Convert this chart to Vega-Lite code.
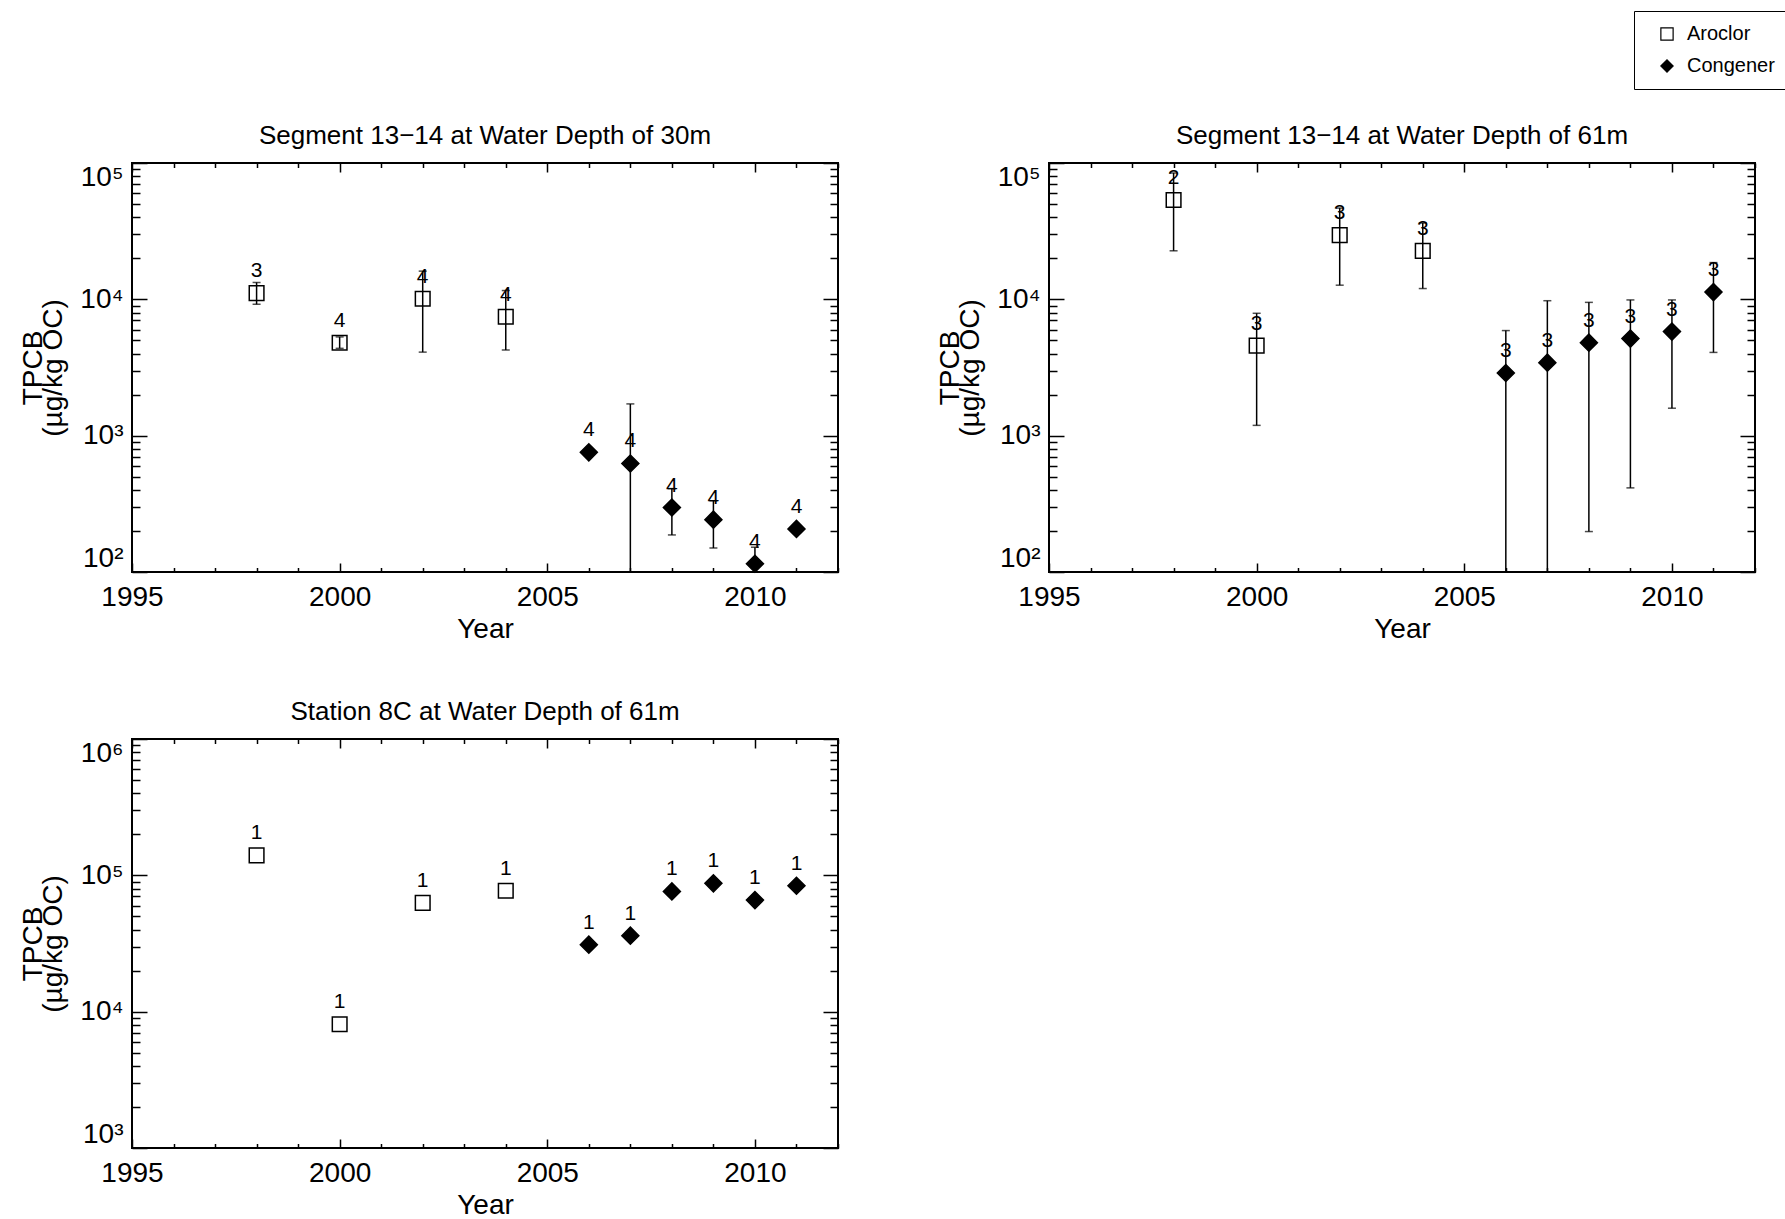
{
  "$schema": "https://vega.github.io/schema/vega-lite/v6.json",
  "background": "white",
  "padding": {"left": 18, "top": 10, "right": 0, "bottom": 0},
  "config": {
    "font": "Liberation Sans",
    "view": {"stroke": "black", "strokeWidth": 2},
    "axis": {
      "domain": false,
      "grid": false,
      "labelFont": "Liberation Sans",
      "labelFontSize": 28,
      "labelColor": "black",
      "labelOverlap": false,
      "titleFont": "Liberation Sans",
      "titleFontSize": 28,
      "titleFontWeight": "normal",
      "titleColor": "black",
      "tickColor": "black",
      "tickWidth": 1.5
    },
    "legend": {
      "orient": "none",
      "legendX": 1502,
      "legendY": -152,
      "title": null,
      "strokeColor": "black",
      "fillColor": "white",
      "padding": 13,
      "labelFont": "Liberation Sans",
      "labelFontSize": 20,
      "labelColor": "black",
      "rowPadding": 12,
      "symbolSize": 150,
      "symbolOffset": 10,
      "labelOffset": 10,
      "symbolStrokeWidth": 1.2
    },
    "title": {"font": "Liberation Sans", "fontSize": 26, "fontWeight": "normal", "color": "black", "baseline": "alphabetic", "offset": 6}
  },
  "datasets": {
    "seg30": [
      {"year": 1998, "type": "Aroclor", "val": 11100, "lo": 9200, "hi": 13300, "n": 3},
      {"year": 2000, "type": "Aroclor", "val": 4800, "lo": 4370, "hi": 5300, "n": 4},
      {"year": 2002, "type": "Aroclor", "val": 10100, "lo": 4100, "hi": 16100, "n": 4},
      {"year": 2004, "type": "Aroclor", "val": 7450, "lo": 4250, "hi": 11600, "n": 4},
      {"year": 2006, "type": "Congener", "val": 755, "lo": null, "hi": null, "n": 4},
      {"year": 2007, "type": "Congener", "val": 625, "lo": 1, "hi": 1710, "n": 4},
      {"year": 2008, "type": "Congener", "val": 297, "lo": 187, "hi": 409, "n": 4},
      {"year": 2009, "type": "Congener", "val": 242, "lo": 150, "hi": 333, "n": 4},
      {"year": 2010, "type": "Congener", "val": 115, "lo": 80, "hi": 152, "n": 4},
      {"year": 2011, "type": "Congener", "val": 207, "lo": null, "hi": null, "n": 4}
    ],
    "seg61": [
      {"year": 1998, "type": "Aroclor", "val": 53500, "lo": 22700, "hi": 84500, "n": 2},
      {"year": 2000, "type": "Aroclor", "val": 4580, "lo": 1190, "hi": 7900, "n": 3},
      {"year": 2002, "type": "Aroclor", "val": 29600, "lo": 12700, "hi": 46700, "n": 3},
      {"year": 2004, "type": "Aroclor", "val": 22700, "lo": 12000, "hi": 36300, "n": 3},
      {"year": 2006, "type": "Congener", "val": 2880, "lo": 1, "hi": 5900, "n": 3},
      {"year": 2007, "type": "Congener", "val": 3430, "lo": 1, "hi": 9770, "n": 3},
      {"year": 2008, "type": "Congener", "val": 4810, "lo": 198, "hi": 9500, "n": 3},
      {"year": 2009, "type": "Congener", "val": 5150, "lo": 414, "hi": 9900, "n": 3},
      {"year": 2010, "type": "Congener", "val": 5800, "lo": 1590, "hi": 9900, "n": 3},
      {"year": 2011, "type": "Congener", "val": 11300, "lo": 4080, "hi": 18600, "n": 3}
    ],
    "st8c": [
      {"year": 1998, "type": "Aroclor", "val": 140000, "n": 1},
      {"year": 2000, "type": "Aroclor", "val": 8080, "n": 1},
      {"year": 2002, "type": "Aroclor", "val": 62800, "n": 1},
      {"year": 2004, "type": "Aroclor", "val": 77100, "n": 1},
      {"year": 2006, "type": "Congener", "val": 31000, "n": 1},
      {"year": 2007, "type": "Congener", "val": 36100, "n": 1},
      {"year": 2008, "type": "Congener", "val": 76200, "n": 1},
      {"year": 2009, "type": "Congener", "val": 87400, "n": 1},
      {"year": 2010, "type": "Congener", "val": 65800, "n": 1},
      {"year": 2011, "type": "Congener", "val": 83900, "n": 1}
    ]
  },
  "columns": 2,
  "spacing": {"row": 167, "column": 211},
  "bounds": "flush",
  "concat": [
    {
      "width": 706,
      "height": 409,
      "title": {"text": "Segment 13−14 at Water Depth of 30m"},
      "data": {"name": "seg30"},
      "resolve": {"axis": {"x": "independent", "y": "independent"}},
      "layer": [
        {
          "mark": {"type": "rule", "clip": true, "color": "black", "strokeWidth": 1.5},
          "encoding": {
            "x": {"field": "year", "type": "quantitative", "scale": {"domain": [1995, 2012], "nice": false, "zero": false}, "axis": null},
            "y": {"field": "lo", "type": "quantitative", "scale": {"type": "log", "domain": [100, 100000], "nice": false}, "axis": null},
            "y2": {"field": "hi"}
          }
        },
        {
          "mark": {"type": "tick", "orient": "horizontal", "clip": true, "color": "black", "size": 8, "thickness": 1.5},
          "encoding": {
            "x": {"field": "year", "type": "quantitative", "scale": {"domain": [1995, 2012], "nice": false, "zero": false}, "axis": null},
            "y": {"field": "lo", "type": "quantitative", "scale": {"type": "log", "domain": [100, 100000], "nice": false}, "axis": null}
          }
        },
        {
          "mark": {"type": "tick", "orient": "horizontal", "clip": true, "color": "black", "size": 8, "thickness": 1.5},
          "encoding": {
            "x": {"field": "year", "type": "quantitative", "scale": {"domain": [1995, 2012], "nice": false, "zero": false}, "axis": null},
            "y": {"field": "hi", "type": "quantitative", "scale": {"type": "log", "domain": [100, 100000], "nice": false}, "axis": null}
          }
        },
        {
          "mark": {"type": "point", "filled": true, "strokeWidth": 1.5, "opacity": 1},
          "encoding": {
            "x": {"field": "year", "type": "quantitative", "scale": {"domain": [1995, 2012], "nice": false, "zero": false},
              "axis": {"orient": "bottom", "title": "Year", "titleY": 65, "titleBaseline": "alphabetic", "format": "d", "labelFlush": false, "labelPadding": 20,
                "values": [1995, 1996, 1997, 1998, 1999, 2000, 2001, 2002, 2003, 2004, 2005, 2006, 2007, 2008, 2009, 2010, 2011, 2012],
                "labelExpr": "datum.value % 5 === 0 ? datum.label : ''",
                "tickSize": {"condition": {"test": "datum.value % 5 === 0", "value": -9}, "value": -4.5}}},
            "y": {"field": "val", "type": "quantitative", "scale": {"type": "log", "domain": [100, 100000], "nice": false},
              "axis": {"orient": "left", "title": ["TPCB", "(µg/kg OC)"], "titleX": -91, "titleBaseline": "alphabetic", "titleLineHeight": 20, "labelFlush": true, "labelPadding": 24,
                "values": [100, 200, 300, 400, 500, 600, 700, 800, 900, 1000, 2000, 3000, 4000, 5000, 6000, 7000, 8000, 9000, 10000, 20000, 30000, 40000, 50000, 60000, 70000, 80000, 90000, 100000],
                "labelExpr": "datum.value === 100 ? '10²' : datum.value === 1000 ? '10³' : datum.value === 10000 ? '10⁴' : datum.value === 100000 ? '10⁵' : ''",
                "tickSize": {"condition": {"test": "indexof([100, 1000, 10000, 100000, 1000000], datum.value) >= 0", "value": -15}, "value": -8}}},
            "shape": {"field": "type", "type": "nominal", "scale": {"domain": ["Aroclor", "Congener"], "range": ["square", "diamond"]}},
            "fill": {"field": "type", "type": "nominal", "scale": {"domain": ["Aroclor", "Congener"], "range": ["transparent", "black"]}},
            "stroke": {"field": "type", "type": "nominal", "scale": {"domain": ["Aroclor", "Congener"], "range": ["black", "black"]}},
            "size": {"condition": {"test": "datum.type === 'Congener'", "value": 290}, "value": 215}
          }
        },
        {
          "mark": {"type": "text", "dy": -22, "fontSize": 21, "color": "black", "baseline": "middle"},
          "encoding": {
            "x": {"field": "year", "type": "quantitative", "scale": {"domain": [1995, 2012], "nice": false, "zero": false},
              "axis": {"orient": "top", "title": null, "labels": false,
                "values": [1995, 1996, 1997, 1998, 1999, 2000, 2001, 2002, 2003, 2004, 2005, 2006, 2007, 2008, 2009, 2010, 2011, 2012],
                "tickSize": {"condition": {"test": "datum.value % 5 === 0", "value": -9}, "value": -4.5}}},
            "y": {"field": "val", "type": "quantitative", "scale": {"type": "log", "domain": [100, 100000], "nice": false},
              "axis": {"orient": "right", "title": null, "labels": false,
                "values": [100, 200, 300, 400, 500, 600, 700, 800, 900, 1000, 2000, 3000, 4000, 5000, 6000, 7000, 8000, 9000, 10000, 20000, 30000, 40000, 50000, 60000, 70000, 80000, 90000, 100000],
                "tickSize": {"condition": {"test": "indexof([100, 1000, 10000, 100000, 1000000], datum.value) >= 0", "value": -15}, "value": -8}}},
            "text": {"field": "n", "type": "nominal"}
          }
        }
      ]
    },
    {
      "width": 706,
      "height": 409,
      "title": {"text": "Segment 13−14 at Water Depth of 61m"},
      "data": {"name": "seg61"},
      "resolve": {"axis": {"x": "independent", "y": "independent"}},
      "layer": [
        {
          "mark": {"type": "rule", "clip": true, "color": "black", "strokeWidth": 1.5},
          "encoding": {
            "x": {"field": "year", "type": "quantitative", "scale": {"domain": [1995, 2012], "nice": false, "zero": false}, "axis": null},
            "y": {"field": "lo", "type": "quantitative", "scale": {"type": "log", "domain": [100, 100000], "nice": false}, "axis": null},
            "y2": {"field": "hi"}
          }
        },
        {
          "mark": {"type": "tick", "orient": "horizontal", "clip": true, "color": "black", "size": 8, "thickness": 1.5},
          "encoding": {
            "x": {"field": "year", "type": "quantitative", "scale": {"domain": [1995, 2012], "nice": false, "zero": false}, "axis": null},
            "y": {"field": "lo", "type": "quantitative", "scale": {"type": "log", "domain": [100, 100000], "nice": false}, "axis": null}
          }
        },
        {
          "mark": {"type": "tick", "orient": "horizontal", "clip": true, "color": "black", "size": 8, "thickness": 1.5},
          "encoding": {
            "x": {"field": "year", "type": "quantitative", "scale": {"domain": [1995, 2012], "nice": false, "zero": false}, "axis": null},
            "y": {"field": "hi", "type": "quantitative", "scale": {"type": "log", "domain": [100, 100000], "nice": false}, "axis": null}
          }
        },
        {
          "mark": {"type": "point", "filled": true, "strokeWidth": 1.5, "opacity": 1},
          "encoding": {
            "x": {"field": "year", "type": "quantitative", "scale": {"domain": [1995, 2012], "nice": false, "zero": false},
              "axis": {"orient": "bottom", "title": "Year", "titleY": 65, "titleBaseline": "alphabetic", "format": "d", "labelFlush": false, "labelPadding": 20,
                "values": [1995, 1996, 1997, 1998, 1999, 2000, 2001, 2002, 2003, 2004, 2005, 2006, 2007, 2008, 2009, 2010, 2011, 2012],
                "labelExpr": "datum.value % 5 === 0 ? datum.label : ''",
                "tickSize": {"condition": {"test": "datum.value % 5 === 0", "value": -9}, "value": -4.5}}},
            "y": {"field": "val", "type": "quantitative", "scale": {"type": "log", "domain": [100, 100000], "nice": false},
              "axis": {"orient": "left", "title": ["TPCB", "(µg/kg OC)"], "titleX": -91, "titleBaseline": "alphabetic", "titleLineHeight": 20, "labelFlush": true, "labelPadding": 24,
                "values": [100, 200, 300, 400, 500, 600, 700, 800, 900, 1000, 2000, 3000, 4000, 5000, 6000, 7000, 8000, 9000, 10000, 20000, 30000, 40000, 50000, 60000, 70000, 80000, 90000, 100000],
                "labelExpr": "datum.value === 100 ? '10²' : datum.value === 1000 ? '10³' : datum.value === 10000 ? '10⁴' : datum.value === 100000 ? '10⁵' : ''",
                "tickSize": {"condition": {"test": "indexof([100, 1000, 10000, 100000, 1000000], datum.value) >= 0", "value": -15}, "value": -8}}},
            "shape": {"field": "type", "type": "nominal", "scale": {"domain": ["Aroclor", "Congener"], "range": ["square", "diamond"]}},
            "fill": {"field": "type", "type": "nominal", "scale": {"domain": ["Aroclor", "Congener"], "range": ["transparent", "black"]}},
            "stroke": {"field": "type", "type": "nominal", "scale": {"domain": ["Aroclor", "Congener"], "range": ["black", "black"]}},
            "size": {"condition": {"test": "datum.type === 'Congener'", "value": 290}, "value": 215}
          }
        },
        {
          "mark": {"type": "text", "dy": -22, "fontSize": 21, "color": "black", "baseline": "middle"},
          "encoding": {
            "x": {"field": "year", "type": "quantitative", "scale": {"domain": [1995, 2012], "nice": false, "zero": false},
              "axis": {"orient": "top", "title": null, "labels": false,
                "values": [1995, 1996, 1997, 1998, 1999, 2000, 2001, 2002, 2003, 2004, 2005, 2006, 2007, 2008, 2009, 2010, 2011, 2012],
                "tickSize": {"condition": {"test": "datum.value % 5 === 0", "value": -9}, "value": -4.5}}},
            "y": {"field": "val", "type": "quantitative", "scale": {"type": "log", "domain": [100, 100000], "nice": false},
              "axis": {"orient": "right", "title": null, "labels": false,
                "values": [100, 200, 300, 400, 500, 600, 700, 800, 900, 1000, 2000, 3000, 4000, 5000, 6000, 7000, 8000, 9000, 10000, 20000, 30000, 40000, 50000, 60000, 70000, 80000, 90000, 100000],
                "tickSize": {"condition": {"test": "indexof([100, 1000, 10000, 100000, 1000000], datum.value) >= 0", "value": -15}, "value": -8}}},
            "text": {"field": "n", "type": "nominal"}
          }
        }
      ]
    },
    {
      "width": 706,
      "height": 409,
      "title": {"text": "Station 8C at Water Depth of 61m"},
      "data": {"name": "st8c"},
      "resolve": {"axis": {"x": "independent", "y": "independent"}},
      "layer": [
        {
          "mark": {"type": "point", "filled": true, "strokeWidth": 1.5, "opacity": 1},
          "encoding": {
            "x": {"field": "year", "type": "quantitative", "scale": {"domain": [1995, 2012], "nice": false, "zero": false},
              "axis": {"orient": "bottom", "title": "Year", "titleY": 65, "titleBaseline": "alphabetic", "format": "d", "labelFlush": false, "labelPadding": 20,
                "values": [1995, 1996, 1997, 1998, 1999, 2000, 2001, 2002, 2003, 2004, 2005, 2006, 2007, 2008, 2009, 2010, 2011, 2012],
                "labelExpr": "datum.value % 5 === 0 ? datum.label : ''",
                "tickSize": {"condition": {"test": "datum.value % 5 === 0", "value": -9}, "value": -4.5}}},
            "y": {"field": "val", "type": "quantitative", "scale": {"type": "log", "domain": [1000, 1000000], "nice": false},
              "axis": {"orient": "left", "title": ["TPCB", "(µg/kg OC)"], "titleX": -91, "titleBaseline": "alphabetic", "titleLineHeight": 20, "labelFlush": true, "labelPadding": 24,
                "values": [1000, 2000, 3000, 4000, 5000, 6000, 7000, 8000, 9000, 10000, 20000, 30000, 40000, 50000, 60000, 70000, 80000, 90000, 100000, 200000, 300000, 400000, 500000, 600000, 700000, 800000, 900000, 1000000],
                "labelExpr": "datum.value === 1000 ? '10³' : datum.value === 10000 ? '10⁴' : datum.value === 100000 ? '10⁵' : datum.value === 1000000 ? '10⁶' : ''",
                "tickSize": {"condition": {"test": "indexof([100, 1000, 10000, 100000, 1000000], datum.value) >= 0", "value": -15}, "value": -8}}},
            "shape": {"field": "type", "type": "nominal", "scale": {"domain": ["Aroclor", "Congener"], "range": ["square", "diamond"]}},
            "fill": {"field": "type", "type": "nominal", "scale": {"domain": ["Aroclor", "Congener"], "range": ["transparent", "black"]}},
            "stroke": {"field": "type", "type": "nominal", "scale": {"domain": ["Aroclor", "Congener"], "range": ["black", "black"]}},
            "size": {"condition": {"test": "datum.type === 'Congener'", "value": 290}, "value": 215}
          }
        },
        {
          "mark": {"type": "text", "dy": -22, "fontSize": 21, "color": "black", "baseline": "middle"},
          "encoding": {
            "x": {"field": "year", "type": "quantitative", "scale": {"domain": [1995, 2012], "nice": false, "zero": false},
              "axis": {"orient": "top", "title": null, "labels": false,
                "values": [1995, 1996, 1997, 1998, 1999, 2000, 2001, 2002, 2003, 2004, 2005, 2006, 2007, 2008, 2009, 2010, 2011, 2012],
                "tickSize": {"condition": {"test": "datum.value % 5 === 0", "value": -9}, "value": -4.5}}},
            "y": {"field": "val", "type": "quantitative", "scale": {"type": "log", "domain": [1000, 1000000], "nice": false},
              "axis": {"orient": "right", "title": null, "labels": false,
                "values": [1000, 2000, 3000, 4000, 5000, 6000, 7000, 8000, 9000, 10000, 20000, 30000, 40000, 50000, 60000, 70000, 80000, 90000, 100000, 200000, 300000, 400000, 500000, 600000, 700000, 800000, 900000, 1000000],
                "tickSize": {"condition": {"test": "indexof([100, 1000, 10000, 100000, 1000000], datum.value) >= 0", "value": -15}, "value": -8}}},
            "text": {"field": "n", "type": "nominal"}
          }
        }
      ]
    }
  ]
}
